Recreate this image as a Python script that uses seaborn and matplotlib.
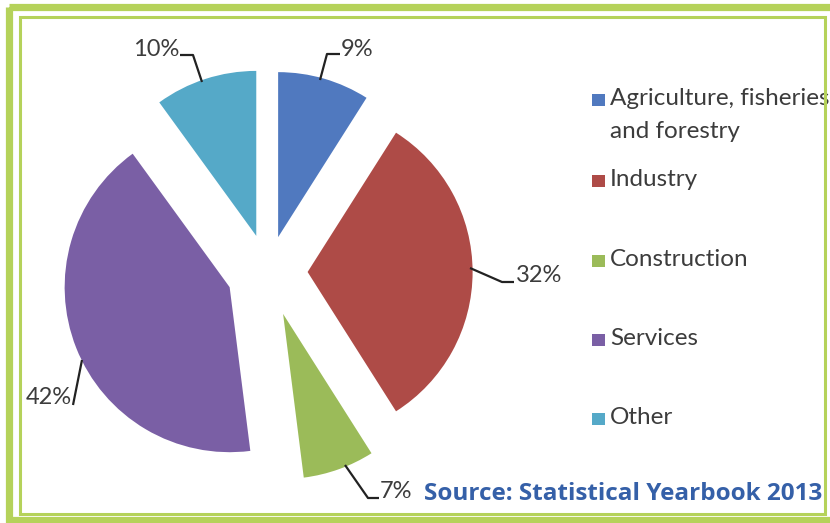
import matplotlib
matplotlib.use("Agg")
import matplotlib.pyplot as plt
import seaborn as sns
from matplotlib.patches import Rectangle

# data
sectors = ['Agriculture, fisheries\nand forestry', 'Industry', 'Construction', 'Services', 'Other']
shares = [9, 32, 7, 42, 10]
pct_labels = ['9%', '32%', '7%', '42%', '10%']
explode = [0.22, 0.24, 0.27, 0.25, 0.23]
colors = ['#5079BF', '#AE4B47', '#9BBB59', '#7A5FA5', '#55A9C8']

sns.set_theme(style="white")
plt.rcParams['font.family'] = ['Lato', 'DejaVu Sans']

W, H = 830, 523
fig = plt.figure(figsize=(W / 100, H / 100), dpi=100)
fig.patch.set_facecolor('white')

# pie axes: centre at (268, 272) px, radius 165 px
cx, cy, r = 268, 272, 165
ax = fig.add_axes([0, 0, 1, 1])
ax.pie(shares, colors=colors, explode=explode, startangle=90, counterclock=False,
       radius=1, wedgeprops=dict(linewidth=0))
ax.set_xlim(-cx / r, (W - cx) / r)
ax.set_ylim(-(H - cy) / r, cy / r)
ax.set_aspect('auto')
ax.axis('off')

# overlay in pixel coordinates
ov = fig.add_axes([0, 0, 1, 1], zorder=5)
ov.set_xlim(0, W)
ov.set_ylim(H, 0)
ov.axis('off')
ov.patch.set_alpha(0)

txt_col = '#3c3c3c'
# leader lines + percentage labels
leaders = {
    '9%': ([320, 327, 340], [80, 54, 54], 341, 50, 'left'),
    '32%': ([470, 502, 514], [268, 282, 282], 516, 275, 'left'),
    '7%': ([345, 368, 379], [465, 498, 498], 380, 491, 'left'),
    '42%': ([73, 82], [405, 360], 72, 398, 'right'),
    '10%': ([202, 193, 180], [82, 55, 55], 179, 49, 'right'),
}
for lab in pct_labels:
    xs, ys, tx, ty, ha = leaders[lab]
    ov.plot(xs, ys, color='#222222', lw=1.6, solid_capstyle='butt')
    ov.text(tx, ty, lab, fontsize=17, color=txt_col, ha=ha, va='center')

# legend
leg_y = [100, 181, 261, 340, 419]
for name, col, y in zip(sectors, colors, leg_y):
    ov.add_patch(Rectangle((592, y - 6.5), 12.5, 12.5, facecolor=col, edgecolor='none'))
    ov.text(610, y - 12, name, fontsize=17.5, color=txt_col, ha='left', va='top',
            linespacing=1.7)

# source note
ov.text(822, 494, 'Source: Statistical Yearbook 2013', fontsize=17.5, fontweight='bold',
        family=['Open Sans', 'DejaVu Sans'], color='#3560A8', ha='right', va='center',
        bbox=dict(facecolor='white', edgecolor='none', pad=1))

# green frame
green = '#B5D25A'
ov.add_patch(Rectangle((8.5, 6.5), 840, 513, fill=False, edgecolor=green, lw=5.2, zorder=10))
ov.add_patch(Rectangle((19.5, 16.5), 805.5, 497.5, fill=False, edgecolor=green, lw=2.2, zorder=10))

fig.savefig('out.png', dpi=100, facecolor='white')
